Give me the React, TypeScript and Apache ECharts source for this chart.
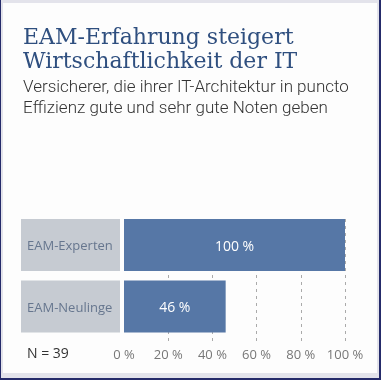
import React, { useEffect, useRef } from "react";
import * as echarts from "echarts";

const titleLines = ["EAM-Erfahrung steigert", "Wirtschaftlichkeit der IT"];
const subtitleLines = [
  "Versicherer, die ihrer IT-Architektur in puncto",
  "Effizienz gute und sehr gute Noten geben",
];
const categories = ["EAM-Experten", "EAM-Neulinge"];
const values = [100, 46];
const note = "N = 39";

const BLUE = "#5677a6";
const SANS = "'Open Sans', 'Liberation Sans', sans-serif";

export default function App() {
  const ref = useRef<HTMLDivElement>(null);
  useEffect(() => {
    if (!ref.current) return;
    const chart = echarts.init(ref.current, undefined, { renderer: "svg" });
    const graphics: any[] = [
      { type: "rect", z: -10, shape: { x: 0, y: 0, width: 381, height: 380 }, style: { fill: "#252b6a" } },
      { type: "rect", z: -9, shape: { x: 1, y: 0, width: 378, height: 378 }, style: { fill: "#e3e3eb" } },
      { type: "rect", z: -8, shape: { x: 3, y: 3, width: 374, height: 370 }, style: { fill: "#fdfdfd" } },
      {
        type: "text",
        left: 23,
        top: 24,
        style: {
          text: titleLines.join("\n"),
          fill: "#2f4f7f",
          font: "22px 'DejaVu Serif', serif",
          lineHeight: 24,
        },
      },
      {
        type: "text",
        left: 23,
        top: 76,
        style: {
          text: subtitleLines.join("\n"),
          fill: "#333333",
          fontSize: 17,
          fontFamily: "Roboto, 'Liberation Sans', sans-serif",
          fontWeight: 300,
          lineHeight: 20.5,
        },
      },
      {
        type: "text",
        left: 27,
        top: 345,
        style: { text: note, fill: "#333333", font: `14px ${SANS}` },
      },
    ];

    chart.setOption({
      animation: false,
      graphic: graphics,
      grid: [
        { left: 124, right: 36, top: 214.25, height: 123 },
        { left: 124, right: 36, top: 219, height: 123 },
      ],
      xAxis: [
        { gridIndex: 0, type: "value", min: 0, max: 100, show: false },
        {
          gridIndex: 1,
          type: "value",
          min: 0,
          max: 100,
          interval: 20,
          axisLine: { show: false },
          axisTick: { show: false },
          axisLabel: {
            margin: 5,
            formatter: "{value} %",
            color: "#777777",
            fontSize: 13,
            fontFamily: SANS,
          },
          splitLine: {
            show: true,
            lineStyle: {
              type: [3, 4],
              width: 1,
              color: ["rgba(0,0,0,0)", "#aaaaaa", "#aaaaaa", "#aaaaaa", "#aaaaaa", "#aaaaaa"],
            },
          },
        },
      ],
      yAxis: [
        {
          gridIndex: 0,
          type: "category",
          inverse: true,
          data: categories,
          axisLine: { show: false },
          axisTick: { show: false },
          axisLabel: {
            margin: 4,
            formatter: (v: string) => `{b|${v}}`,
            rich: {
              b: {
                width: 93,
                height: 52,
                padding: [0, 0, 0, 6],
                backgroundColor: "#c6cbd2",
                align: "left",
                color: "#66768e",
                fontSize: 13,
                fontFamily: SANS,
              },
            },
          },
        },
        { gridIndex: 1, type: "value", min: 0, max: 1, show: false },
      ],
      series: [
        {
          type: "bar",
          xAxisIndex: 0,
          yAxisIndex: 0,
          data: values,
          barWidth: 52,
          itemStyle: { color: BLUE },
          label: {
            show: true,
            position: "inside",
            formatter: "{c} %",
            color: "#ffffff",
            fontSize: 14,
            fontFamily: SANS,
          },
        },
      ],
    });
    return () => chart.dispose();
  }, []);
  return (
    <div
      ref={ref}
      style={{ position: "fixed", left: 0, top: 0, width: 381, height: 380 }}
    />
  );
}
